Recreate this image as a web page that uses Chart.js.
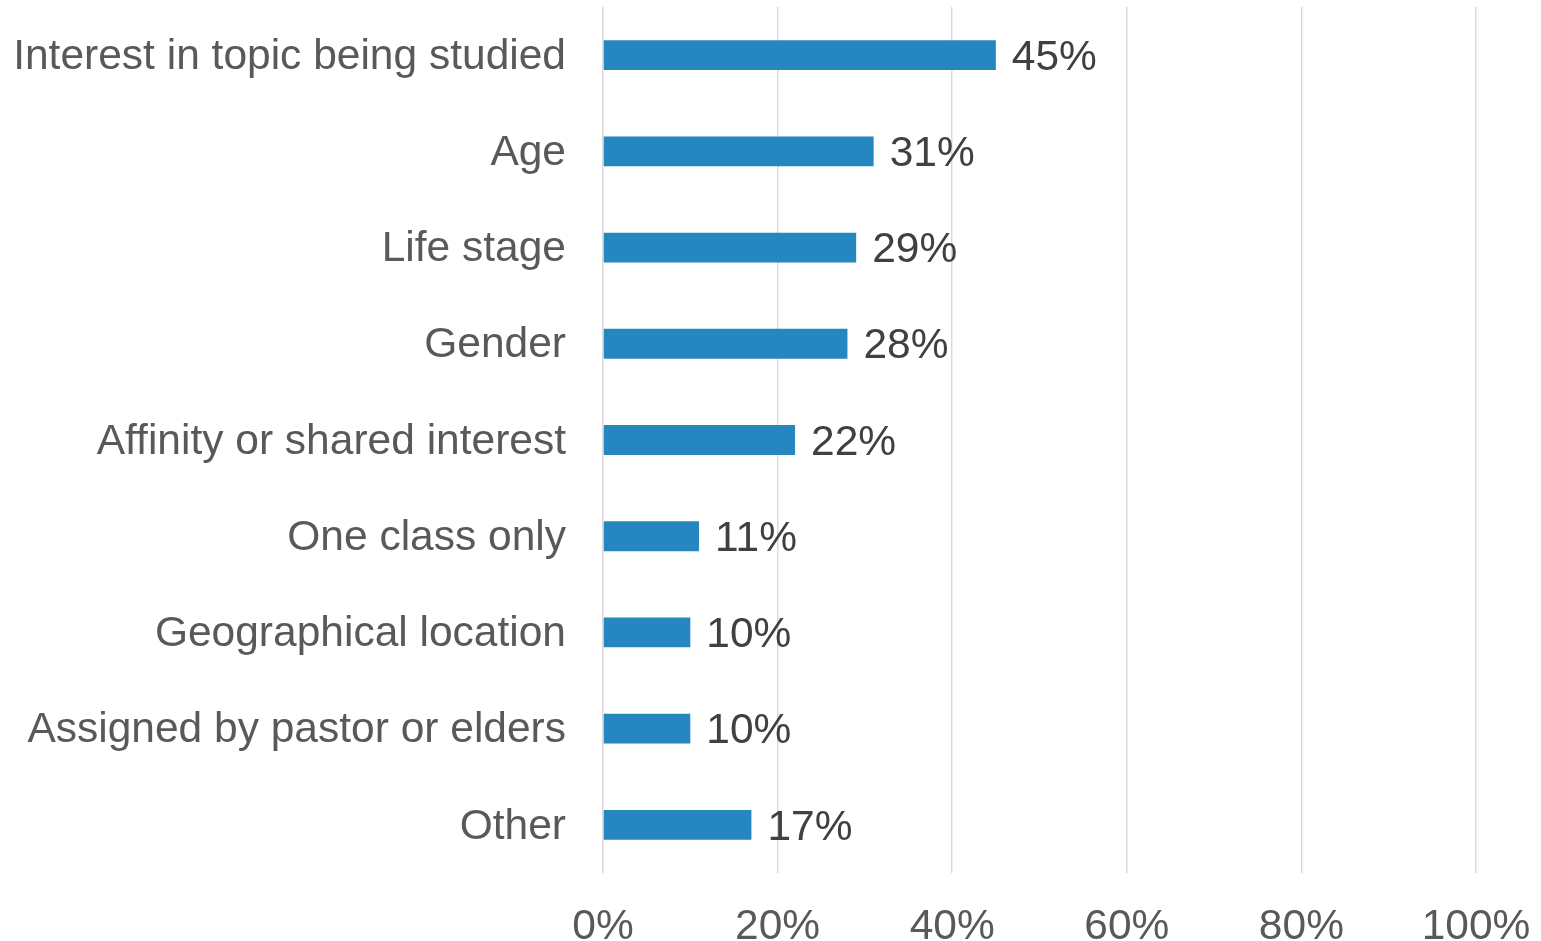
<!DOCTYPE html>
<html lang="en">
<head>
  <meta charset="UTF-8">
  <title>Group criteria</title>
  <script src="https://cdn.jsdelivr.net/npm/chart.js"></script>
  <style>
    html, body { margin: 0; padding: 0; background: #fff; }
    #wrap { width: 1541px; height: 941px; position: relative; }
  </style>
</head>
<body>
  <div id="wrap"><canvas id="chart"></canvas></div>
  <script>
    const categories = [
      'Interest in topic being studied',
      'Age',
      'Life stage',
      'Gender',
      'Affinity or shared interest',
      'One class only',
      'Geographical location',
      'Assigned by pastor or elders',
      'Other'
    ];
    const shares = [45, 31, 29, 28, 22, 11, 10, 10, 17];
    const xTicks = [0, 20, 40, 60, 80, 100];

    const FONT = '"Liberation Sans", Arial, sans-serif';

    // simple value labels at the bar ends
    const barLabels = {
      id: 'barLabels',
      afterDatasetsDraw(chart) {
        const ctx = chart.ctx;
        const meta = chart.getDatasetMeta(0);
        ctx.save();
        ctx.font = '42.5px ' + FONT;
        ctx.fillStyle = '#404040';
        ctx.textAlign = 'left';
        ctx.textBaseline = 'middle';
        meta.data.forEach((bar, i) => {
          ctx.fillText(shares[i] + '%', bar.x + 16, bar.y + 3);
        });
        ctx.restore();
      }
    };

    const noPad = scale => {
      scale.paddingTop = 0;
      scale.paddingBottom = 0;
      scale.paddingLeft = 0;
      scale.paddingRight = 0;
    };

    new Chart(document.getElementById('chart'), {
      type: 'bar',
      data: {
        labels: categories,
        datasets: [{
          data: shares,
          backgroundColor: '#2686c0',
          borderWidth: 0,
          barPercentage: 0.31,
          categoryPercentage: 1
        }]
      },
      options: {
        indexAxis: 'y',
        responsive: true,
        maintainAspectRatio: false,
        animation: false,
        layout: { padding: { top: 7, right: 65, bottom: 0, left: 0 } },
        plugins: { legend: { display: false }, tooltip: { enabled: false } },
        scales: {
          x: {
            min: 0,
            max: 100,
            afterBuildTicks: scale => { scale.ticks = xTicks.map(v => ({ value: v })); },
            afterFit: scale => { scale.height = 68; noPad(scale); },
            border: { display: false },
            grid: { color: '#d9d9d9', lineWidth: 1.5, drawTicks: false },
            ticks: {
              padding: 29,
              color: '#595959',
              font: { family: FONT, size: 42.5 },
              maxRotation: 0,
              callback: v => v + '%'
            }
          },
          y: {
            afterFit: scale => { scale.width = 603; noPad(scale); },
            border: { display: false },
            grid: { display: false, drawTicks: false },
            ticks: {
              padding: 37,
              labelOffset: 2,
              color: '#595959',
              font: { family: FONT, size: 42.5 }
            }
          }
        }
      },
      plugins: [barLabels]
    });
  </script>
</body>
</html>
